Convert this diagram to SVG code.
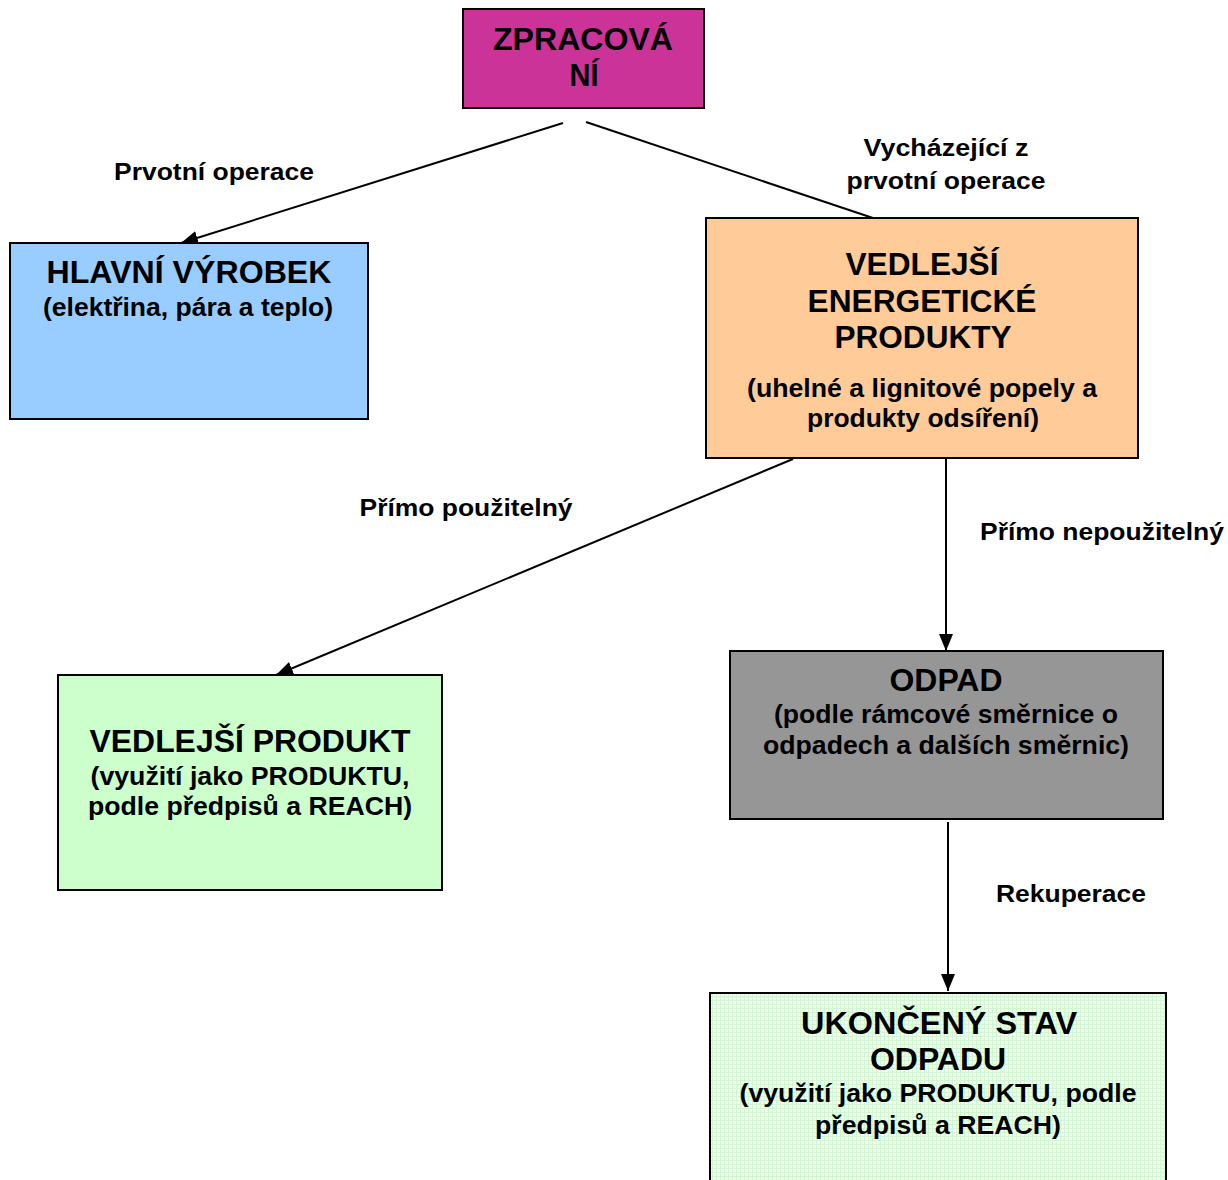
<svg xmlns="http://www.w3.org/2000/svg" width="1228" height="1180" viewBox="0 0 1228 1180">
<style>
text{font-family:"Liberation Sans",Arial,sans-serif;font-weight:bold;fill:#000;text-anchor:middle}
.t{font-size:31px}
.s{font-size:25px}
.l{font-size:23px}
.box{stroke:#000;stroke-width:2}
.c{stroke:#000;stroke-width:2;fill:none}
</style>
<defs>
<marker id="ah" viewBox="0 0 17 14" refX="17" refY="7" markerWidth="17" markerHeight="14" markerUnits="userSpaceOnUse" orient="auto">
<path d="M0,0 L17,7 L0,14 Z" fill="#000"/>
</marker>
<pattern id="grid" width="4" height="4" patternUnits="userSpaceOnUse">
<rect width="4" height="4" fill="#EEFFEE"/>
<path d="M0,0.5 H4 M0.5,0 V4" stroke="#D2F5D2" stroke-width="1"/>
</pattern>
</defs>
<rect width="1228" height="1180" fill="#fff"/>
<g id="connectors">
<line class="c" x1="563" y1="123" x2="181" y2="243" marker-end="url(#ah)"/>
<line class="c" x1="586" y1="122" x2="873" y2="218"/>
<line class="c" x1="793" y1="459" x2="276" y2="675" marker-end="url(#ah)"/>
<line class="c" x1="946" y1="459" x2="946" y2="651" marker-end="url(#ah)"/>
<line class="c" x1="948" y1="822" x2="948" y2="991" marker-end="url(#ah)"/>
</g>
<g id="labels">
<text class="l" x="214" y="180" textLength="200" lengthAdjust="spacingAndGlyphs">Prvotní operace</text>
<text class="l" x="946" y="156" textLength="165" lengthAdjust="spacingAndGlyphs">Vycházející z</text>
<text class="l" x="946" y="189" textLength="199" lengthAdjust="spacingAndGlyphs">prvotní operace</text>
<text class="l" x="466" y="516" textLength="213" lengthAdjust="spacingAndGlyphs">Přímo použitelný</text>
<text class="l" x="1102" y="540" textLength="244" lengthAdjust="spacingAndGlyphs">Přímo nepoužitelný</text>
<text class="l" x="1071" y="902" textLength="150" lengthAdjust="spacingAndGlyphs">Rekuperace</text>
</g>
<g id="zpracovani">
<rect class="box" x="463" y="9" width="241" height="99" fill="#CC3399"/>
<text class="t" x="583" y="50" textLength="180" lengthAdjust="spacingAndGlyphs">ZPRACOVÁ</text>
<text class="t" x="584" y="86" textLength="29" lengthAdjust="spacingAndGlyphs">NÍ</text>
</g>
<g id="hlavni">
<rect class="box" x="10" y="243" width="358" height="176" fill="#99CCFF"/>
<text class="t" x="189" y="283" textLength="285" lengthAdjust="spacingAndGlyphs">HLAVNÍ VÝROBEK</text>
<text class="s" x="188" y="316" textLength="290" lengthAdjust="spacingAndGlyphs">(elektřina, pára a teplo)</text>
</g>
<g id="vedlejsi-energeticke">
<rect class="box" x="706" y="218" width="432" height="240" fill="#FFCC99"/>
<text class="t" x="922" y="275" textLength="153" lengthAdjust="spacingAndGlyphs">VEDLEJŠÍ</text>
<text class="t" x="922" y="312" textLength="229" lengthAdjust="spacingAndGlyphs">ENERGETICKÉ</text>
<text class="t" x="923" y="348" textLength="177" lengthAdjust="spacingAndGlyphs">PRODUKTY</text>
<text class="s" x="922" y="397" textLength="350" lengthAdjust="spacingAndGlyphs">(uhelné a lignitové popely a</text>
<text class="s" x="923" y="427" textLength="232" lengthAdjust="spacingAndGlyphs">produkty odsíření)</text>
</g>
<g id="vedlejsi-produkt">
<rect class="box" x="58" y="675" width="384" height="215" fill="#CCFFCC"/>
<text class="t" x="250" y="752" textLength="321" lengthAdjust="spacingAndGlyphs">VEDLEJŠÍ PRODUKT</text>
<text class="s" x="250" y="785" textLength="319" lengthAdjust="spacingAndGlyphs">(využití jako PRODUKTU,</text>
<text class="s" x="250" y="815" textLength="324" lengthAdjust="spacingAndGlyphs">podle předpisů a REACH)</text>
</g>
<g id="odpad">
<rect class="box" x="730" y="651" width="433" height="168" fill="#969696"/>
<text class="t" x="946" y="691" textLength="113" lengthAdjust="spacingAndGlyphs">ODPAD</text>
<text class="s" x="946" y="723" textLength="344" lengthAdjust="spacingAndGlyphs">(podle rámcové směrnice o</text>
<text class="s" x="946" y="754" textLength="366" lengthAdjust="spacingAndGlyphs">odpadech a dalších směrnic)</text>
</g>
<g id="ukonceny">
<rect class="box" x="710" y="993" width="456" height="200" fill="url(#grid)"/>
<text class="t" x="939" y="1034" textLength="276" lengthAdjust="spacingAndGlyphs">UKONČENÝ STAV</text>
<text class="t" x="938" y="1070" textLength="136" lengthAdjust="spacingAndGlyphs">ODPADU</text>
<text class="s" x="938" y="1102" textLength="397" lengthAdjust="spacingAndGlyphs">(využití jako PRODUKTU, podle</text>
<text class="s" x="938" y="1134" textLength="246" lengthAdjust="spacingAndGlyphs">předpisů a REACH)</text>
</g>
</svg>
